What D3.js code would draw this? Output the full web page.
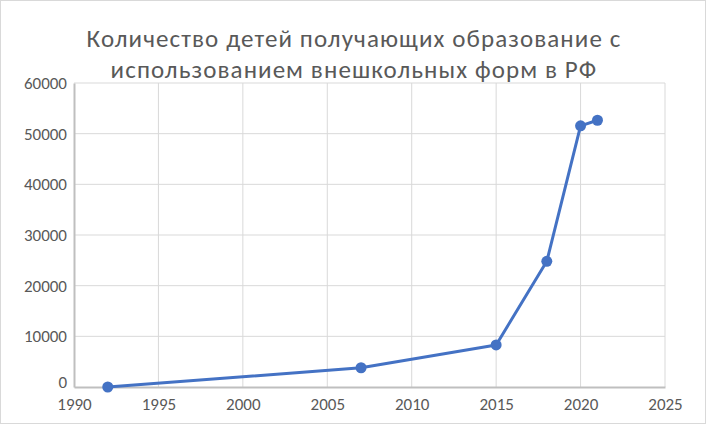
<!DOCTYPE html>
<html><head><meta charset="utf-8">
<script src="https://cdn.jsdelivr.net/npm/d3@7"></script>
<style>body{margin:0;background:#fff}svg{display:block}</style>
</head><body><svg id="c" width="706" height="424"></svg>
<script>
const years = [1992, 2007, 2015, 2018, 2020, 2021];
const values = [0, 3800, 8300, 24800, 51550, 52650];
const xTicks = [1990, 1995, 2000, 2005, 2010, 2015, 2020, 2025];
const yTicks = [0, 10000, 20000, 30000, 40000, 50000, 60000];
const titleLines = ["Количество детей получающих образование с", "использованием внешкольных форм в РФ"];

const svg = d3.select("#c");
const W = 706, H = 424;
const m = {left: 74, right: 41, top: 83, bottom: 37};
svg.append("rect").attr("x",0.5).attr("y",0.5).attr("width",W-1).attr("height",H-1).attr("fill","#fff").attr("stroke","#d9d9d9");

const x = d3.scaleLinear().domain([1990, 2025]).range([m.left, W - m.right]);
const y = d3.scaleLinear().domain([0, 60000]).range([H - m.bottom, m.top]);
const font = "Calibri, Carlito, 'Open Sans', sans-serif";

// grid
const grid = svg.append("g");
grid.selectAll(".gy").data(yTicks.slice(1)).join("line")
  .attr("x1", m.left).attr("x2", W - m.right)
  .attr("y1", d => y(d)).attr("y2", d => y(d))
  .attr("stroke", "#d9d9d9").attr("stroke-width", 1);
grid.selectAll(".gx").data(xTicks.slice(1)).join("line")
  .attr("x1", d => x(d)).attr("x2", d => x(d))
  .attr("y1", m.top).attr("y2", H - m.bottom)
  .attr("stroke", "#d9d9d9").attr("stroke-width", 1);

// axes
const xAxis = svg.append("g").attr("transform", `translate(0,${H - m.bottom})`)
  .call(d3.axisBottom(x).tickValues(xTicks).tickFormat(d3.format("d")).tickSize(0).tickPadding(11));
const yAxis = svg.append("g").attr("transform", `translate(${m.left},0)`)
  .call(d3.axisLeft(y).tickValues(yTicks).tickFormat(d3.format("d")).tickSize(0).tickPadding(7));
[xAxis, yAxis].forEach(a => {
  a.select(".domain").attr("stroke", "#bfbfbf").attr("stroke-width", 2);
  a.selectAll("text").attr("fill", "#595959").style("font-family", font).style("font-size", "17px");
});
yAxis.selectAll(".tick").filter(d => d === 0).select("text").attr("dy", "0.05em");

// line
svg.append("path").datum(years.map((d, i) => [d, values[i]]))
  .attr("fill", "none").attr("stroke", "#4472c4").attr("stroke-width", 3).attr("stroke-linejoin", "round")
  .attr("d", d3.line().x(d => x(d[0])).y(d => y(d[1])));
svg.selectAll(".pt").data(years.map((d, i) => [d, values[i]])).join("circle")
  .attr("cx", d => x(d[0])).attr("cy", d => y(d[1])).attr("r", 5.5).attr("fill", "#4472c4");

// title
svg.append("g").selectAll("text").data(titleLines).join("text")
  .attr("x", 354).attr("y", (d, i) => 47 + i * 31)
  .attr("text-anchor", "middle").attr("fill", "#595959")
  .style("font-family", font).style("font-size", "25px").style("letter-spacing", "1.1px")
  .text(d => d);
</script></body></html>
